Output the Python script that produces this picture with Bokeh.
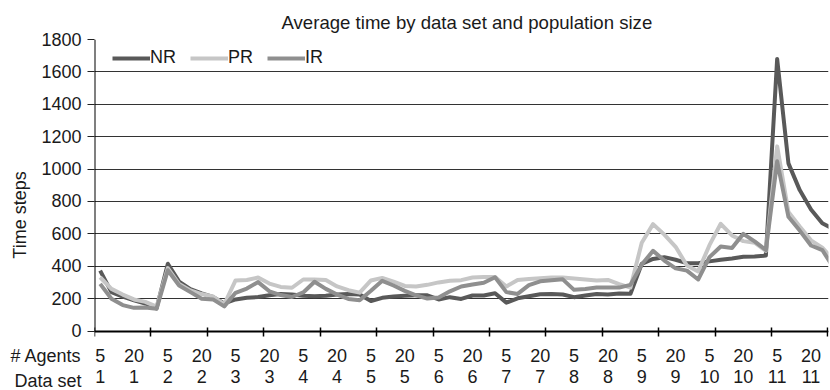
import numpy as np
from bokeh.plotting import figure
from bokeh.models import (FixedTicker, LinearAxis, Range1d, Legend, LegendItem)
from bokeh.embed import file_html
from bokeh.resources import INLINE

# ---- data -------------------------------------------------------------
data_sets = list(range(1, 12))              # 11 data sets
agents = [5, 10, 15, 20, 25, 30]            # population sizes per data set
series_names = ["NR", "PR", "IR"]

nr = [373, 240, 212, 190, 170, 140,
      415, 305, 258, 232, 210, 170,
      195, 205, 210, 221, 228, 225,
      217, 215, 217, 226, 228, 225,
      185, 205, 213, 217, 220, 220,
      195, 209, 198, 219, 219, 233,
      175, 202, 215, 227, 229, 225,
      209, 219, 229, 225, 232, 230,
      415, 445, 456, 440, 419, 419,
      430, 440, 448, 458, 460, 466,
      1680, 1035, 870, 750, 665, 630]
pr = [332, 260, 225, 195, 180, 150,
      388, 290, 250, 228, 213, 165,
      312, 315, 330, 293, 272, 267,
      318, 318, 315, 275, 252, 237,
      312, 328, 305, 278, 275, 285,
      300, 310, 314, 330, 333, 334,
      275, 315, 321, 325, 330, 330,
      324, 318, 312, 315, 290, 268,
      545, 660, 595, 520, 405, 368,
      530, 662, 590, 555, 545, 495,
      1140, 735, 645, 560, 515, 440]
ir = [291, 199, 160, 143, 145, 137,
      375, 281, 240, 199, 195, 152,
      236, 262, 302, 245, 222, 210,
      238, 304, 260, 225, 198, 190,
      248, 310, 281, 248, 220, 200,
      207, 245, 275, 287, 298, 332,
      240, 229, 283, 307, 313, 319,
      254, 260, 268, 268, 268, 285,
      410, 495, 435, 387, 373, 318,
      456, 522, 512, 600, 553, 500,
      1048, 705, 620, 528, 500, 390]

y_ticks = list(range(0, 1801, 200))
title_text = "Average time by data set and population size"
y_title = "Time steps"
row_titles = ["# Agents", "Data set"]

# ---- layout constants (pixels) -----------------------------------------
W, H = 830, 390
TOP, LEFT, RIGHT = 39, 94, 2
ZERO_PX = 330.5                 # canvas y of value 0
ROW_PX = [355, 380]             # canvas y of the two label rows
y_max = y_ticks[-1]
u_per_px = y_max / (ZERO_PX - TOP)
y_min = -(H - ZERO_PX) * u_per_px
row_y = [-(r - ZERO_PX) * u_per_px for r in ROW_PX]

# ---- derived positions -------------------------------------------------
n_per = len(agents)
n = len(data_sets) * n_per
x = np.arange(n)
label_pos = list(range(0, n, 3))
agent_labels = {i: str(agents[i % n_per]) for i in label_pos}
set_labels = {i: str(data_sets[i // n_per]) for i in label_pos}
tick_pos = [i - 0.5 for i in range(0, n, 5)]
x_start, x_end = -0.5, 64.55

FONT = "Liberation Sans"
FS = "18px"
TXT = "#1a1a1a"

p = figure(width=W, height=H, output_backend="svg", toolbar_location=None,
           x_range=Range1d(x_start, x_end), y_range=Range1d(y_min, y_max),
           x_axis_type=None, min_border_left=LEFT, min_border_right=RIGHT,
           min_border_top=TOP, min_border_bottom=0)
p.outline_line_color = None
p.background_fill_color = "white"
p.border_fill_color = "white"

p.title.text = title_text
p.title.align = "left"
p.title.offset = 187
p.title.text_font = FONT
p.title.text_font_size = "18.6px"
p.title.text_font_style = "normal"
p.title.text_color = TXT
p.title.standoff = 13

# main y axis: value ticks + the two row titles as extra labels
ya = p.yaxis[0]
ya.ticker = FixedTicker(ticks=y_ticks + row_y, minor_ticks=y_ticks)
ya.major_label_overrides = {row_y[0]: row_titles[0], row_y[1]: row_titles[1]}
ya.axis_label = y_title
ya.axis_label_text_font = FONT
ya.axis_label_text_font_size = FS
ya.axis_label_text_font_style = "normal"
ya.axis_label_text_color = TXT
ya.axis_label_standoff = -23
ya.major_label_text_font = FONT
ya.major_label_text_font_size = FS
ya.major_label_text_color = TXT
ya.major_label_standoff = 6
ya.major_tick_in = 0
ya.major_tick_out = 7
ya.major_tick_line_color = None
ya.minor_tick_in = 0
ya.minor_tick_out = 7
ya.minor_tick_line_color = "#222222"
ya.axis_line_color = None

# visible y axis line, only from 0 to the top
yline = LinearAxis(fixed_location=x_start, bounds=(0, y_max),
                   ticker=FixedTicker(ticks=[]))
yline.axis_line_color = "black"
yline.axis_line_width = 2
yline.major_tick_line_color = None
yline.minor_tick_line_color = None
p.add_layout(yline, "left")

p.xgrid.visible = False
p.ygrid.ticker = FixedTicker(ticks=y_ticks)
p.ygrid.grid_line_color = "#333333"
p.ygrid.grid_line_width = 1.2

# x axis at value 0 with the "# Agents" row
xa = LinearAxis(fixed_location=0,
                ticker=FixedTicker(ticks=label_pos, minor_ticks=tick_pos),
                major_label_overrides=agent_labels)
xa.axis_line_color = "black"
xa.axis_line_width = 2
xa.major_tick_line_color = None
xa.major_tick_in = 0
xa.major_tick_out = 0
xa.minor_tick_line_color = "black"
xa.minor_tick_line_width = 1.5
xa.minor_tick_in = 4
xa.minor_tick_out = 5
xa.major_label_standoff = 13
xa.major_label_text_font = FONT
xa.major_label_text_font_size = FS
xa.major_label_text_color = TXT
p.add_layout(xa, "below")

# "Data set" row
xb = LinearAxis(fixed_location=0, ticker=FixedTicker(ticks=label_pos),
                major_label_overrides=set_labels)
xb.axis_line_color = None
xb.major_tick_line_color = None
xb.minor_tick_line_color = None
xb.major_tick_in = 0
xb.major_tick_out = 0
xb.major_label_standoff = 39
xb.major_label_text_font = FONT
xb.major_label_text_font_size = FS
xb.major_label_text_color = TXT
p.add_layout(xb, "below")

# series
colors = ["#595959", "#c6c6c6", "#8f8f8f"]
renderers = []
for vals, c in zip([nr, pr, ir], colors):
    r = p.line(x, vals, line_color=c, line_width=4, line_join="round")
    renderers.append(r)

legend = Legend(items=[LegendItem(label=nm, renderers=[r])
                       for nm, r in zip(series_names, renderers)],
                orientation="horizontal", location=(18, 322),
                margin=0, padding=0, spacing=14,
                glyph_width=38, glyph_height=20, label_height=20,
                label_standoff=0, label_text_font=FONT,
                label_text_font_size=FS, label_text_color=TXT,
                border_line_color=None, background_fill_alpha=0)
p.add_layout(legend)

open("out.html", "w").write(file_html(p, INLINE))
